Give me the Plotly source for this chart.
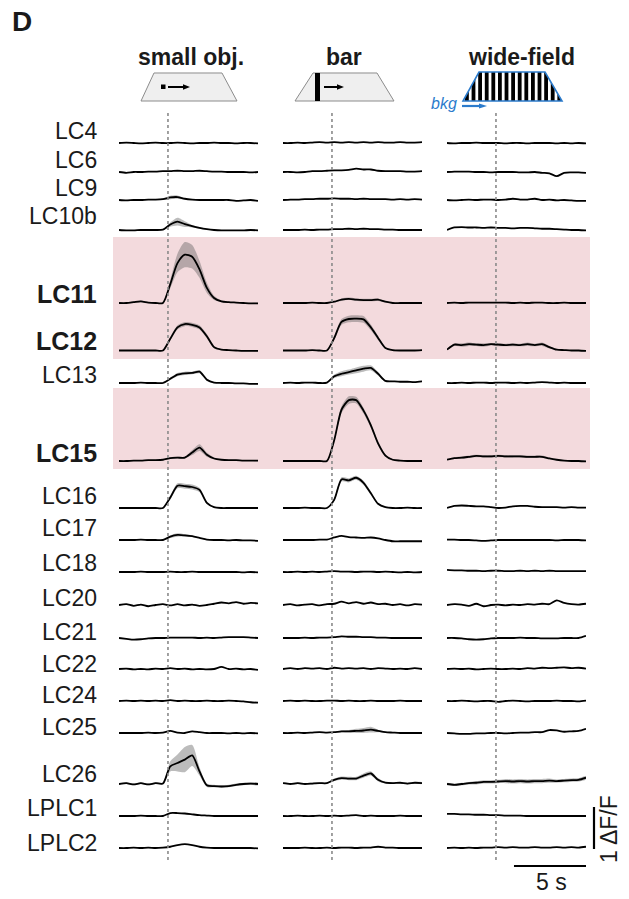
import plotly.graph_objects as go

W, H = 629, 899
PX_PER_UNIT = 42.0  # pixels per 1 dF/F

# ---------------- data ----------------
TIME = [-3.4, -2.89, -2.38, -1.88, -1.37, -0.86, -0.35, 0.16, 0.66, 1.17,
        1.68, 2.19, 2.7, 3.2, 3.71, 4.22, 4.73, 5.24, 5.74, 6.25]
COLUMNS = ["small obj.", "bar", "wide-field"]
ROW_NAMES = ["LC4", "LC6", "LC9", "LC10b", "LC11", "LC12", "LC13", "LC15", "LC16", "LC17",
             "LC18", "LC20", "LC21", "LC22", "LC24", "LC25", "LC26", "LPLC1", "LPLC2"]
BOLD_ROWS = ["LC11", "LC12", "LC15"]
SCALE_T = 5       # s
SCALE_DFF = 1     # dF/F

LC4_SMALL = [0, 0.01, 0, -0.01, 0, 0.01, 0, 0, 0.01, 0, -0.01, 0, 0, 0.01, 0, 0, -0.01, 0, 0, -0.01]
LC4_BAR = [0, 0, 0.01, 0, 0.01, 0.02, 0.01, 0.02, 0.01, 0.02, 0.01, 0.02, 0.01, 0.02, 0.01, 0.01, 0.02, 0.01, 0.01, 0.02]
LC4_WIDE = [0, -0.01, 0, 0, 0.01, 0, 0, 0, -0.01, 0, 0, -0.01, 0, 0, 0, -0.01, 0, -0.01, 0, -0.01]

LC6_SMALL = [0, -0.02, 0, 0, 0.01, 0.01, 0.02, 0.02, 0.03, 0.02, 0.02, 0.03, 0.02, 0.01, 0.01, 0.0, 0.0, 0.0, -0.01, 0.0]
LC6_BAR = [0, 0, -0.01, 0, 0.02, 0.02, 0.03, 0.04, 0.04, 0.05, 0.08, 0.06, 0.06, 0.03, 0.02, 0.02, 0.02, 0.01, 0.01, 0.02]
LC6_WIDE = [0, 0.01, 0.01, 0.01, 0.0, 0.0, -0.01, 0.0, 0.0, 0.0, -0.01, -0.01, 0.0, -0.02, -0.03, -0.1, -0.02, -0.01, -0.01, -0.02]

LC9_SMALL = [0, -0.01, 0, 0, 0.01, 0.01, 0.02, 0.06, 0.07, 0.03, 0.01, 0.0, 0.0, 0.0, 0.0, 0.0, -0.02, -0.01, 0.0, -0.02]
LC9_BAR = [0, 0.01, 0.01, 0.02, 0.02, 0.03, 0.03, 0.04, 0.03, 0.03, 0.02, 0.03, 0.02, 0.02, 0.02, 0.01, 0.02, 0.01, 0.02, 0.01]
LC9_WIDE = [0, -0.01, 0.0, 0.01, 0.0, 0.01, 0.01, 0.0, 0.01, 0.03, 0.01, 0.01, 0.03, 0.0, 0.01, -0.01, 0.0, -0.01, -0.02, -0.02]
LC9_SMALL_SEM = [0.01, 0.01, 0.01, 0.01, 0.01, 0.01, 0.02, 0.04, 0.04, 0.02, 0.01, 0.01, 0.01, 0.01, 0.01, 0.01, 0.01, 0.01, 0.01, 0.01]

LC10B_SMALL = [0, -0.01, -0.01, 0.0, 0.0, 0.0, 0.01, 0.13, 0.2, 0.14, 0.09, 0.05, 0.02, 0.0, -0.01, -0.01, -0.01, -0.01, 0.0, -0.01]
LC10B_BAR = [0, 0.0, 0.0, 0.01, 0.0, 0.01, 0.01, 0.02, 0.02, 0.03, 0.02, 0.03, 0.02, 0.02, 0.01, 0.01, 0.0, 0.0, 0.0, 0.0]
LC10B_WIDE = [0, 0.06, 0.07, 0.06, 0.06, 0.05, 0.06, 0.05, 0.05, 0.04, 0.05, 0.05, 0.04, 0.03, 0.03, 0.02, 0.01, 0.0, 0.0, -0.01]
LC10B_SMALL_SEM = [0.01, 0.01, 0.01, 0.01, 0.01, 0.01, 0.01, 0.05, 0.09, 0.07, 0.03, 0.02, 0.01, 0.01, 0.01, 0.01, 0.01, 0.01, 0.01, 0.01]

LC11_SMALL = [0, 0, 0.02, 0.04, 0.01, 0, 0, 0.45, 0.95, 1.15, 1.1, 0.8, 0.36, 0.12, 0.04, 0.02, 0.01, 0.0, -0.01, -0.01]
LC11_BAR = [0, 0, 0, 0, 0.01, 0, 0, 0.03, 0.08, 0.1, 0.08, 0.07, 0.07, 0.08, 0.03, 0.0, 0.0, 0.0, 0.0, 0.0]
LC11_WIDE = [0, 0.01, 0, 0.01, 0.01, 0.01, 0.01, 0.01, 0.01, 0.0, 0.01, 0.0, 0.01, 0.01, 0.0, 0.0, 0.01, 0.0, 0.0, 0.0]
LC11_SMALL_SEM = [0.01, 0.01, 0.02, 0.02, 0.01, 0.01, 0.01, 0.1, 0.22, 0.3, 0.28, 0.2, 0.12, 0.05, 0.02, 0.01, 0.01, 0.01, 0.01, 0.01]
LC11_BAR_SEM = [0.01, 0.01, 0.01, 0.01, 0.01, 0.01, 0.01, 0.02, 0.03, 0.03, 0.03, 0.03, 0.03, 0.03, 0.02, 0.01, 0.01, 0.01, 0.01, 0.01]

LC12_SMALL = [0, 0, 0, 0, 0, 0, 0, 0.28, 0.55, 0.63, 0.61, 0.55, 0.34, 0.08, 0.02, 0.01, 0.0, -0.01, -0.01, -0.01]
LC12_BAR = [0, 0, 0, 0, 0.01, 0, 0, 0.3, 0.68, 0.75, 0.76, 0.74, 0.55, 0.3, 0.06, 0.01, 0, 0, 0, 0.01]
LC12_WIDE = [0.02, 0.14, 0.13, 0.15, 0.14, 0.13, 0.15, 0.14, 0.13, 0.14, 0.13, 0.15, 0.13, 0.15, 0.08, 0.02, 0.01, 0, 0, -0.01]
LC12_SMALL_SEM = [0.01, 0.01, 0.01, 0.01, 0.01, 0.01, 0.01, 0.04, 0.05, 0.05, 0.05, 0.05, 0.05, 0.03, 0.01, 0.01, 0.01, 0.01, 0.01, 0.01]
LC12_BAR_SEM = [0.01, 0.01, 0.01, 0.01, 0.01, 0.01, 0.01, 0.05, 0.07, 0.08, 0.08, 0.08, 0.07, 0.05, 0.02, 0.01, 0.01, 0.01, 0.01, 0.01]
LC12_WIDE_SEM = [0.01, 0.03, 0.04, 0.04, 0.03, 0.04, 0.03, 0.04, 0.03, 0.04, 0.03, 0.04, 0.03, 0.04, 0.03, 0.01, 0.01, 0.01, 0.01, 0.01]

LC13_SMALL = [0, 0, 0, 0.01, 0, 0, 0, 0.1, 0.2, 0.23, 0.24, 0.27, 0.08, 0.01, 0.0, 0.0, -0.01, -0.01, -0.02, -0.02]
LC13_BAR = [0, 0.01, 0, 0.01, 0.01, 0.0, 0.01, 0.16, 0.22, 0.26, 0.3, 0.34, 0.36, 0.22, 0.05, 0.04, 0.03, 0.03, 0.02, 0.04]
LC13_WIDE = [0, 0.0, 0.01, 0.0, 0.01, 0.01, 0.0, 0.01, 0.01, 0.0, 0.01, 0.0, 0.01, 0.02, 0.01, 0.0, 0.01, 0.0, 0.0, 0.0]
LC13_SMALL_SEM = [0.01, 0.01, 0.01, 0.01, 0.01, 0.01, 0.01, 0.03, 0.04, 0.04, 0.03, 0.04, 0.03, 0.01, 0.01, 0.01, 0.01, 0.01, 0.01, 0.01]
LC13_BAR_SEM = [0.01, 0.01, 0.01, 0.01, 0.01, 0.01, 0.01, 0.04, 0.06, 0.06, 0.07, 0.07, 0.06, 0.04, 0.02, 0.01, 0.01, 0.01, 0.01, 0.01]

LC15_SMALL = [0, 0, 0.01, 0.01, 0.02, 0.02, 0.03, 0.07, 0.08, 0.08, 0.2, 0.32, 0.15, 0.06, 0.03, 0.02, 0.02, 0.01, 0.01, 0.01]
LC15_BAR = [0, 0, 0, 0, 0, 0, 0, 0.5, 1.22, 1.45, 1.45, 1.2, 0.85, 0.42, 0.13, 0.03, 0.01, 0, 0, 0]
LC15_WIDE = [0.03, 0.07, 0.08, 0.1, 0.12, 0.11, 0.11, 0.12, 0.11, 0.11, 0.11, 0.1, 0.1, 0.1, 0.06, 0.03, 0.01, 0, 0, -0.01]
LC15_SMALL_SEM = [0.01, 0.01, 0.01, 0.01, 0.01, 0.01, 0.01, 0.02, 0.02, 0.02, 0.06, 0.08, 0.05, 0.02, 0.01, 0.01, 0.01, 0.01, 0.01, 0.01]
LC15_BAR_SEM = [0.01, 0.01, 0.01, 0.01, 0.01, 0.01, 0.01, 0.05, 0.08, 0.09, 0.08, 0.07, 0.06, 0.05, 0.03, 0.01, 0.01, 0.01, 0.01, 0.01]
LC15_WIDE_SEM = [0.01, 0.02, 0.03, 0.03, 0.03, 0.03, 0.03, 0.03, 0.03, 0.03, 0.03, 0.03, 0.03, 0.03, 0.02, 0.01, 0.01, 0.01, 0.01, 0.01]

LC16_SMALL = [0, 0, 0, 0, 0, 0, 0, 0.25, 0.53, 0.52, 0.5, 0.43, 0.12, 0.02, 0, 0, 0, 0, 0, 0]
LC16_BAR = [0, 0, 0, 0.01, 0, 0, 0, 0.2, 0.68, 0.66, 0.72, 0.6, 0.35, 0.1, 0.02, 0, 0, 0.01, 0, 0]
LC16_WIDE = [0, 0.05, 0.06, 0.05, 0.04, 0.04, 0.02, 0.0, 0.01, 0.04, 0.05, 0.05, 0.03, 0.02, 0.02, 0.02, 0.01, 0.02, 0.01, 0.01]
LC16_SMALL_SEM = [0.01, 0.01, 0.01, 0.01, 0.01, 0.01, 0.01, 0.05, 0.06, 0.06, 0.06, 0.05, 0.03, 0.01, 0.01, 0.01, 0.01, 0.01, 0.01, 0.01]
LC16_BAR_SEM = [0.01, 0.01, 0.01, 0.01, 0.01, 0.01, 0.01, 0.04, 0.05, 0.05, 0.05, 0.05, 0.04, 0.02, 0.01, 0.01, 0.01, 0.01, 0.01, 0.01]

LC17_SMALL = [0, 0, 0, 0.01, 0, 0, 0, 0.08, 0.12, 0.11, 0.09, 0.05, 0.01, 0, 0, -0.01, 0, -0.01, -0.01, -0.02]
LC17_BAR = [0, 0, 0, 0, 0, 0.01, 0.01, 0.06, 0.1, 0.07, 0.06, 0.05, 0.06, 0.04, 0.0, -0.03, -0.03, -0.03, -0.03, -0.03]
LC17_WIDE = [0.01, 0.01, 0.0, 0.0, -0.01, -0.02, -0.01, 0.0, 0.0, 0.0, 0.0, 0.0, 0.0, 0.0, 0.0, -0.01, 0.0, 0.0, 0.0, -0.01]
LC17_SMALL_SEM = [0.01, 0.01, 0.01, 0.01, 0.01, 0.01, 0.01, 0.03, 0.04, 0.03, 0.02, 0.01, 0.01, 0.01, 0.01, 0.01, 0.01, 0.01, 0.01, 0.01]

LC18_SMALL = [0, 0, 0, 0.01, 0, 0, 0, 0.01, 0.0, 0.0, 0.01, 0.0, 0.0, 0.0, 0.0, 0.0, 0.0, -0.01, 0.0, -0.01]
LC18_BAR = [0, 0, 0.01, 0, 0.01, 0.0, 0.01, 0.02, 0.01, 0.01, 0.0, 0.01, 0.01, 0.0, 0.01, 0.0, -0.01, 0.0, -0.01, 0.0]
LC18_WIDE = [0.05, 0.04, 0.04, 0.03, 0.03, 0.02, 0.03, 0.03, 0.02, 0.02, 0.03, 0.02, 0.03, 0.02, 0.03, 0.02, 0.02, 0.02, 0.02, 0.02]

LC20_SMALL = [0, 0.02, -0.02, 0.01, -0.03, 0.0, 0.02, -0.01, 0.02, -0.01, 0.01, -0.02, 0.0, 0.03, 0.06, 0.04, 0.07, 0.03, 0.05, 0.04]
LC20_BAR = [0, 0.02, -0.01, 0.01, 0.02, -0.01, 0.02, 0.03, 0.08, 0.04, 0.07, 0.03, 0.06, 0.02, 0.03, 0.0, 0.02, -0.01, 0.02, 0.01]
LC20_WIDE = [0, 0.02, 0.01, -0.02, 0.03, -0.03, 0.0, 0.01, -0.01, 0.01, 0.0, 0.02, 0.01, 0.03, 0.02, 0.11, 0.05, 0.02, 0.01, 0.03]

LC21_SMALL = [0, -0.02, -0.04, -0.03, -0.01, 0.0, 0.0, 0.01, 0.01, 0.01, 0.01, 0.0, 0.01, 0.0, 0.01, 0.02, 0.02, 0.02, 0.01, 0.0]
LC21_BAR = [0, 0, 0, 0.01, 0, 0.01, 0.01, 0.02, 0.04, 0.03, 0.03, 0.02, 0.02, 0.01, 0.01, 0, 0, 0, 0, 0]
LC21_WIDE = [0, 0.0, -0.01, -0.03, -0.04, -0.03, -0.01, 0.0, 0.0, 0.0, 0.01, 0.0, 0.0, -0.01, -0.01, -0.01, 0.0, 0.0, 0.0, 0.05]

LC22_SMALL = [0, 0.01, -0.01, 0.0, -0.01, 0.01, 0.0, 0.02, 0.0, 0.01, -0.01, 0.0, -0.01, 0.0, 0.05, 0.0, 0.01, -0.01, 0.0, -0.02]
LC22_BAR = [0, 0.02, 0.0, 0.02, 0.01, 0.02, 0.0, 0.03, 0.01, 0.02, 0.01, 0.02, 0.0, 0.02, 0.01, 0.0, 0.01, 0.0, 0.02, 0.0]
LC22_WIDE = [0, 0.01, 0.0, 0.01, -0.01, 0.0, 0.01, 0.0, 0.0, 0.01, 0.0, 0.02, 0.01, 0.03, 0.02, 0.03, 0.04, 0.02, 0.03, 0.01]

LC24_SMALL = [0, 0.01, 0.0, 0.01, 0.0, 0.01, 0.0, 0.02, 0.0, 0.01, 0.0, 0.0, 0.01, 0.0, 0.0, 0.01, 0.0, -0.01, -0.03, -0.04]
LC24_BAR = [0, 0.01, 0.0, 0.01, 0.0, 0.0, 0.01, 0.01, 0.0, 0.01, 0.0, 0.0, 0.01, 0.0, 0.0, 0.0, 0.01, 0.0, 0.0, 0.0]
LC24_WIDE = [0, 0.0, 0.01, 0.0, -0.01, 0.0, 0.0, -0.02, 0.0, 0.01, 0.0, -0.01, 0.0, 0.0, 0.0, 0.01, 0.0, 0.0, -0.01, 0.01]

LC25_SMALL = [0, 0.0, 0.0, 0.0, 0.01, 0.0, 0.01, 0.05, 0.01, 0.0, 0.04, 0.02, 0.0, 0.0, 0.0, -0.01, 0.0, -0.01, 0.0, -0.01]
LC25_BAR = [0, 0.0, 0.01, 0.0, 0.01, 0.02, 0.01, 0.02, 0.04, 0.04, 0.05, 0.06, 0.08, 0.05, 0.02, 0.01, 0.0, 0.0, 0.0, 0.0]
LC25_WIDE = [0, -0.01, -0.02, -0.02, -0.01, -0.01, 0.0, 0.0, -0.01, 0.0, 0.01, 0.01, 0.02, 0.02, 0.07, 0.06, 0.03, 0.04, 0.05, 0.1]
LC25_BAR_SEM = [0.01, 0.01, 0.01, 0.01, 0.01, 0.01, 0.01, 0.01, 0.02, 0.03, 0.05, 0.06, 0.07, 0.03, 0.01, 0.01, 0.01, 0.01, 0.01, 0.01]

LC26_SMALL = [0, 0.02, -0.01, 0.02, -0.01, 0.02, 0.01, 0.42, 0.5, 0.58, 0.68, 0.3, -0.03, -0.05, -0.06, -0.05, -0.02, 0.0, 0.01, 0.0]
LC26_BAR = [0.02, 0.0, 0.02, 0.0, 0.01, 0.02, 0.02, 0.1, 0.14, 0.13, 0.13, 0.2, 0.25, 0.1, 0.03, 0.02, 0.03, 0.01, 0.03, 0.02]
LC26_WIDE = [0, -0.02, 0.0, 0.02, 0.03, 0.05, 0.05, 0.06, 0.07, 0.06, 0.07, 0.06, 0.07, 0.07, 0.08, 0.07, 0.08, 0.09, 0.1, 0.15]
LC26_SMALL_SEM = [0.02, 0.02, 0.02, 0.02, 0.02, 0.02, 0.02, 0.12, 0.2, 0.3, 0.25, 0.1, 0.04, 0.03, 0.03, 0.03, 0.03, 0.03, 0.03, 0.03]
LC26_BAR_SEM = [0.02, 0.02, 0.02, 0.02, 0.02, 0.02, 0.02, 0.03, 0.04, 0.04, 0.04, 0.05, 0.05, 0.04, 0.02, 0.02, 0.02, 0.02, 0.02, 0.02]
LC26_WIDE_SEM = [0.03, 0.03, 0.03, 0.03, 0.04, 0.04, 0.04, 0.04, 0.05, 0.05, 0.05, 0.05, 0.05, 0.05, 0.05, 0.04, 0.04, 0.04, 0.04, 0.04]

LPLC1_SMALL = [0, 0, 0, 0.01, 0, 0, 0, 0.07, 0.07, 0.06, 0.04, 0.02, 0.01, 0, 0, 0, 0, 0, 0, 0]
LPLC1_BAR = [0, 0, 0.01, 0, 0, 0.01, 0, 0.01, 0.0, 0.01, 0.02, 0.0, 0.01, 0.0, 0.0, 0.0, 0.01, 0.0, 0.0, 0.0]
LPLC1_WIDE = [0.05, 0.05, 0.04, 0.04, 0.03, 0.03, 0.02, 0.02, 0.01, 0.01, 0.01, 0.0, 0.0, 0.0, 0.0, 0.0, 0.0, 0.0, 0.0, 0.0]

LPLC2_SMALL = [0, 0, 0.01, 0, 0.01, 0, 0.01, 0.03, 0.07, 0.09, 0.07, 0.03, 0.01, 0.0, 0.0, 0.0, 0.0, 0.0, 0.0, -0.01]
LPLC2_BAR = [0, 0, 0.0, 0.01, 0, 0, 0.01, 0.0, 0.01, 0.01, 0.0, 0.01, 0.01, 0.03, 0.01, 0.01, 0.0, 0.0, 0.0, 0.0]
LPLC2_WIDE = [0, 0.01, 0.0, 0.01, 0.0, 0.01, 0.01, 0.02, 0.01, 0.02, 0.01, 0.01, 0.02, 0.01, 0.01, 0.02, 0.01, 0.02, 0.01, 0.03]

TRACES = {
    "LC4": (LC4_SMALL, LC4_BAR, LC4_WIDE),
    "LC6": (LC6_SMALL, LC6_BAR, LC6_WIDE),
    "LC9": (LC9_SMALL, LC9_BAR, LC9_WIDE),
    "LC10b": (LC10B_SMALL, LC10B_BAR, LC10B_WIDE),
    "LC11": (LC11_SMALL, LC11_BAR, LC11_WIDE),
    "LC12": (LC12_SMALL, LC12_BAR, LC12_WIDE),
    "LC13": (LC13_SMALL, LC13_BAR, LC13_WIDE),
    "LC15": (LC15_SMALL, LC15_BAR, LC15_WIDE),
    "LC16": (LC16_SMALL, LC16_BAR, LC16_WIDE),
    "LC17": (LC17_SMALL, LC17_BAR, LC17_WIDE),
    "LC18": (LC18_SMALL, LC18_BAR, LC18_WIDE),
    "LC20": (LC20_SMALL, LC20_BAR, LC20_WIDE),
    "LC21": (LC21_SMALL, LC21_BAR, LC21_WIDE),
    "LC22": (LC22_SMALL, LC22_BAR, LC22_WIDE),
    "LC24": (LC24_SMALL, LC24_BAR, LC24_WIDE),
    "LC25": (LC25_SMALL, LC25_BAR, LC25_WIDE),
    "LC26": (LC26_SMALL, LC26_BAR, LC26_WIDE),
    "LPLC1": (LPLC1_SMALL, LPLC1_BAR, LPLC1_WIDE),
    "LPLC2": (LPLC2_SMALL, LPLC2_BAR, LPLC2_WIDE),
}
SEMS = {
    ("LC9", 0): LC9_SMALL_SEM, ("LC10b", 0): LC10B_SMALL_SEM,
    ("LC11", 0): LC11_SMALL_SEM, ("LC11", 1): LC11_BAR_SEM,
    ("LC12", 0): LC12_SMALL_SEM, ("LC12", 1): LC12_BAR_SEM, ("LC12", 2): LC12_WIDE_SEM,
    ("LC13", 0): LC13_SMALL_SEM, ("LC13", 1): LC13_BAR_SEM,
    ("LC15", 0): LC15_SMALL_SEM, ("LC15", 1): LC15_BAR_SEM, ("LC15", 2): LC15_WIDE_SEM,
    ("LC16", 0): LC16_SMALL_SEM, ("LC16", 1): LC16_BAR_SEM,
    ("LC17", 0): LC17_SMALL_SEM, ("LC25", 1): LC25_BAR_SEM,
    ("LC26", 0): LC26_SMALL_SEM, ("LC26", 1): LC26_BAR_SEM, ("LC26", 2): LC26_WIDE_SEM,
}

# ---------------- layout (pixel positions) ----------------
ROW_BASE_PX = [143, 172, 200, 230, 303, 350.5, 383, 461, 508, 540, 572, 605, 638, 669, 701, 733, 784, 816, 848]
LABEL_PX = [131, 160, 188, 216, 294, 340.5, 375, 453, 496, 528, 563, 598, 632, 664, 695, 727, 774, 808, 843]
COL_LEFT_PX = [119, 283, 447]
COL_W_PX = 139
T0, T1 = TIME[0], TIME[-1]
FONT = "Liberation Sans, Arial, Helvetica, sans-serif"
BLUE = "#2b7bcc"


def yv(p):   # pixel row -> y data value
    return -p / PX_PER_UNIT


def xp(p):   # pixel column -> paper x
    return p / W


def yp(p):   # pixel row -> paper y
    return 1 - p / H


def path(pts):
    return "M " + " L ".join(f"{xp(x):.5f},{yp(y):.5f}" for x, y in pts) + " Z"


fig = go.Figure()
XA = ["x", "x2", "x3"]

for i, name in enumerate(ROW_NAMES):
    base = yv(ROW_BASE_PX[i])
    for j in range(3):
        vals = TRACES[name][j]
        sem = SEMS.get((name, j))
        if sem is not None:
            up = [base + v + s for v, s in zip(vals, sem)]
            lo = [base + v - s for v, s in zip(vals, sem)]
            fig.add_trace(go.Scatter(
                x=TIME + TIME[::-1], y=up + lo[::-1], xaxis=XA[j], yaxis="y",
                mode="lines", fill="toself", fillcolor="rgba(95,95,95,0.42)",
                line=dict(width=0, shape="spline", smoothing=0.7),
                hoverinfo="skip", showlegend=False))
        fig.add_trace(go.Scatter(
            x=TIME, y=[base + v for v in vals], xaxis=XA[j], yaxis="y",
            mode="lines", line=dict(color="black", width=1.8, shape="spline", smoothing=0.7),
            showlegend=False, hoverinfo="skip"))

shapes = []
# pink highlight bands
for top, bot in [(237, 359), (388, 469)]:
    shapes.append(dict(type="rect", xref="paper", yref="y", x0=xp(113), x1=xp(590),
                       y0=yv(bot), y1=yv(top), fillcolor="#f3dadd", line=dict(width=0),
                       layer="below"))
# stimulus onset dashed lines
for j in range(3):
    shapes.append(dict(type="line", xref=XA[j], yref="y", x0=0, x1=0, y0=yv(113), y1=yv(860),
                       line=dict(color="#8a8a8a", width=1.6, dash="3px,3px")))
# scale bars
shapes.append(dict(type="line", xref="x3", yref="y", x0=T1 - SCALE_T, x1=T1, y0=yv(866), y1=yv(866),
                   line=dict(color="black", width=2.2)))
shapes.append(dict(type="line", xref="paper", yref="y", x0=xp(594), x1=xp(594),
                   y0=yv(849), y1=yv(849) + SCALE_DFF, line=dict(color="black", width=2.2)))

# --- stimulus icons ---
ps = dict(xref="paper", yref="paper")
# small object
shapes.append(dict(type="path", path=path([(154, 73), (222, 73), (237, 101), (141, 101)]),
                   fillcolor="#efefef", line=dict(color="#8c8c8c", width=1), **ps))
shapes.append(dict(type="rect", x0=xp(161), x1=xp(165.5), y0=yp(89), y1=yp(84.5),
                   fillcolor="black", line=dict(width=0), **ps))
shapes.append(dict(type="line", x0=xp(168), x1=xp(185), y0=yp(87), y1=yp(87),
                   line=dict(color="black", width=2), **ps))
shapes.append(dict(type="path", path=path([(183, 84.3), (190, 87), (183, 89.7)]),
                   fillcolor="black", line=dict(width=0), **ps))
# bar
shapes.append(dict(type="path", path=path([(313, 73), (377, 73), (394, 101), (295, 101)]),
                   fillcolor="#efefef", line=dict(color="#8c8c8c", width=1), **ps))
shapes.append(dict(type="rect", x0=xp(315), x1=xp(320), y0=yp(101), y1=yp(73),
                   fillcolor="black", line=dict(width=0), **ps))
shapes.append(dict(type="line", x0=xp(324), x1=xp(339), y0=yp(87), y1=yp(87),
                   line=dict(color="black", width=2), **ps))
shapes.append(dict(type="path", path=path([(337, 84.3), (344, 87), (337, 89.7)]),
                   fillcolor="black", line=dict(width=0), **ps))
# wide-field grating
TL, TR, BR, BL, YT, YB = 479, 545, 562, 463, 72, 101


def top_at(x):
    if x < TL:
        return YB - (x - BL) / (TL - BL) * (YB - YT)
    if x > TR:
        return YT + (x - TR) / (BR - TR) * (YB - YT)
    return YT


shapes.append(dict(type="path", path=path([(TL, YT), (TR, YT), (BR, YB), (BL, YB)]),
                   fillcolor="white", line=dict(width=0), **ps))
for s in range(15):
    a = 465 + 6.6 * s
    b = min(a + 3.8, BR - 0.5)
    pts = [(a, YB), (b, YB), (b, top_at(b))]
    if a < TL < b:
        pts.append((TL, YT))
    if a < TR < b:
        pts.append((TR, YT))
    pts.append((a, top_at(a)))
    shapes.append(dict(type="path", path=path(pts), fillcolor="black", line=dict(width=0), **ps))
shapes.append(dict(type="path", path=path([(TL, YT), (TR, YT), (BR, YB), (BL, YB)]),
                   fillcolor="rgba(0,0,0,0)", line=dict(color=BLUE, width=1.6), **ps))
shapes.append(dict(type="line", x0=xp(462), x1=xp(480), y0=yp(106), y1=yp(106),
                   line=dict(color=BLUE, width=2.2), **ps))
shapes.append(dict(type="path", path=path([(479, 103.5), (487, 106), (479, 108.5)]),
                   fillcolor=BLUE, line=dict(width=0), **ps))

ann = []
ann.append(dict(text="<b>D</b>", x=xp(10), y=yp(22), xanchor="left", yanchor="middle",
                font=dict(size=28, color="#1a1a1a")))
for cx, title in zip([191, 344, 521], COLUMNS):
    ann.append(dict(text=f"<b>{title}</b>", x=xp(cx), y=yp(57), xanchor="center", yanchor="middle",
                    font=dict(size=23, color="#1a1a1a")))
ann.append(dict(text="<i>bkg</i>", x=xp(459), y=yp(104), xanchor="right", yanchor="middle",
                font=dict(size=16, color=BLUE)))
for i, name in enumerate(ROW_NAMES):
    bold = name in BOLD_ROWS
    txt = f"<b>{name}</b>" if bold else name
    ann.append(dict(text=txt, x=xp(99), y=yp(LABEL_PX[i]), xanchor="right", yanchor="middle",
                    font=dict(size=25 if bold else 23, color="#1a1a1a")))
ann.append(dict(text=f"{SCALE_T} s", x=xp(551), y=yp(882), xanchor="center", yanchor="middle",
                font=dict(size=23, color="#1a1a1a")))
ann.append(dict(text=f"{SCALE_DFF} ΔF/F", x=xp(609), y=yp(829), xanchor="center", yanchor="middle",
                textangle=-90, font=dict(size=23, color="#1a1a1a")))
for a in ann:
    a.setdefault("xref", "paper")
    a.setdefault("yref", "paper")
    a["showarrow"] = False

layout_axes = {}
for j in range(3):
    key = "xaxis" if j == 0 else f"xaxis{j + 1}"
    layout_axes[key] = dict(domain=[xp(COL_LEFT_PX[j]), xp(COL_LEFT_PX[j] + COL_W_PX)],
                            range=[T0, T1], visible=False, fixedrange=True, anchor="y")

fig.update_layout(
    width=W, height=H, autosize=False,
    margin=dict(l=0, r=0, t=0, b=0, pad=0),
    paper_bgcolor="white", plot_bgcolor="rgba(0,0,0,0)",
    font=dict(family=FONT, color="#1a1a1a"),
    yaxis=dict(domain=[0, 1], range=[yv(H), 0], visible=False, fixedrange=True),
    shapes=shapes, annotations=ann, showlegend=False,
    **layout_axes,
)
fig.write_html("out.html", config={"displayModeBar": False},
               post_script="document.body.style.margin='0px';document.body.style.overflow='hidden';")
